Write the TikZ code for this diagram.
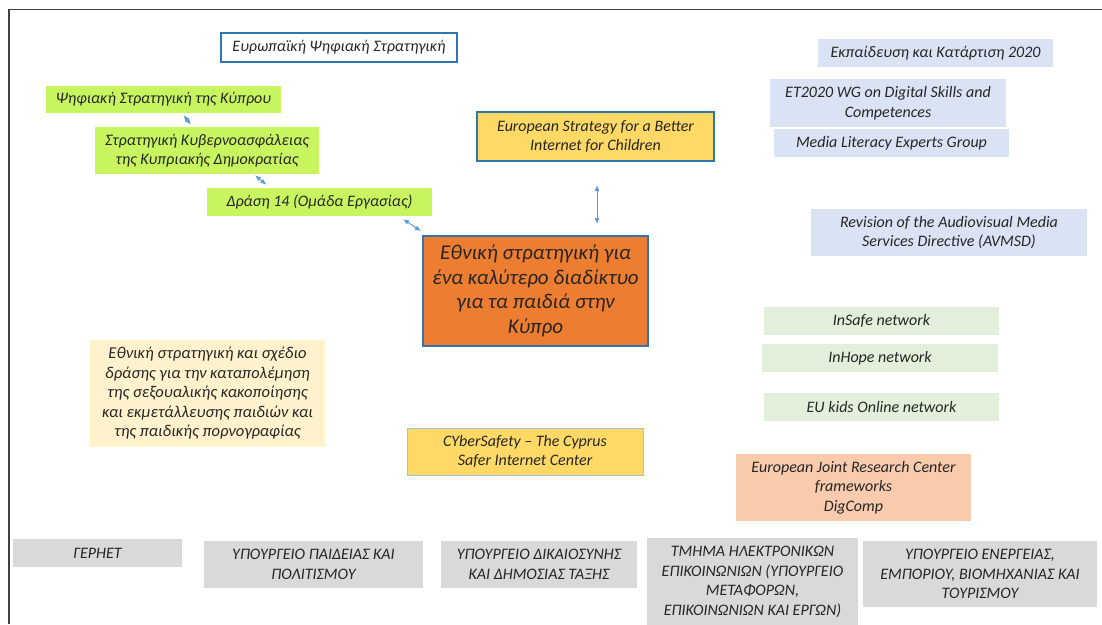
\documentclass[tikz,border=0pt]{standalone}
\usepackage{fontspec}
\setmainfont{Carlito}
\usepackage{tikz}
\usetikzlibrary{arrows.meta}
\definecolor{edgeblue}{RGB}{46,117,182}
\definecolor{arrowblue}{RGB}{91,155,213}
\definecolor{limegreen}{RGB}{200,245,95}
\definecolor{goldyellow}{RGB}{255,217,102}
\definecolor{deeporange}{RGB}{237,125,49}
\definecolor{paleblue}{RGB}{218,227,243}
\definecolor{palegreen}{RGB}{226,239,218}
\definecolor{peach}{RGB}{248,203,173}
\definecolor{paleyellow}{RGB}{255,242,204}
\definecolor{lightgrey}{RGB}{217,217,217}
\definecolor{thinblue}{RGB}{157,195,230}

\begin{document}
\begin{tikzpicture}[>={Latex[length=6pt,width=5pt]}, x=1pt, y=-1pt,
	box/.style={inner sep=0pt, align=center, text=black!85, font=\itshape\fontsize{16}{19.5}\selectfont},
	link/.style={<->, draw=arrowblue, line width=1pt}]
%		\draw [help lines] (0,0) grid (1102,624);
		\useasboundingbox (0,0) rectangle (1102,624);
		\draw [black!75, line width=1.5pt] (9,624) -- (9,9.5) -- (1102,9.5);
		% left column: european and cypriot strategies
		\node [box, draw=edgeblue, line width=1.2pt, minimum width=236, minimum height=29] (eudig) at (339,47.5) {Ευρωπαϊκή Ψηφιακή Στρατηγική};
		\node [box, fill=limegreen, minimum width=235, minimum height=27] (kyp) at (163.5,99.5) {Ψηφιακή Στρατηγική της Κύπρου};
		\node [box, fill=limegreen, minimum width=224, minimum height=47] (kyber) at (207,150.5) {Στρατηγική Κυβερνοασφάλειας\\της Κυπριακής Δημοκρατίας};
		\node [box, fill=limegreen, minimum width=225, minimum height=28] (drasi) at (319.5,202) {Δράση 14 (Ομάδα Εργασίας)};
		% centre
		\node [box, fill=goldyellow, draw=edgeblue, line width=2pt, minimum width=237, minimum height=49] (eubetter) at (595.5,136.5) {European Strategy for a Better\\Internet for Children};
		\node [box, fill=deeporange, draw=edgeblue, line width=2pt, minimum width=225, minimum height=110, font=\itshape\fontsize{21}{24.5}\selectfont] (ethniki) at (535.5,291) {Εθνική στρατηγική για\\ένα καλύτερο διαδίκτυο\\για τα παιδιά στην\\Κύπρο};
		\node [box, fill=paleyellow, minimum width=235, minimum height=107, font=\itshape\fontsize{16.5}{19.5}\selectfont] (sexual) at (207.5,393.5) {Εθνική στρατηγική και σχέδιο\\δράσης για την καταπολέμηση\\της σεξουαλικής κακοποίησης\\και εκμετάλλευσης παιδιών και\\της παιδικής πορνογραφίας};
		\node [box, fill=goldyellow, draw=thinblue, line width=0.8pt, minimum width=236, minimum height=47] (cysafe) at (525,451.5) {CYberSafety -- The Cyprus\\Safer Internet Center};
		% right column: eu groups and networks
		\node [box, fill=paleblue, minimum width=235, minimum height=28] (ekp) at (935.5,53) {Εκπαίδευση και Κατάρτιση 2020};
		\node [box, fill=paleblue, minimum width=236, minimum height=48] (et2020) at (888,103) {ET2020 WG on Digital Skills and\\Competences};
		\node [box, fill=paleblue, minimum width=235, minimum height=28] (media) at (891.5,143) {Media Literacy Experts Group};
		\node [box, fill=paleblue, minimum width=276, minimum height=47] (avmsd) at (949,232.5) {Revision of the Audiovisual Media\\Services Directive (AVMSD)};
		\node [box, fill=palegreen, minimum width=235, minimum height=28] (insafe) at (881.5,321) {InSafe network};
		\node [box, fill=palegreen, minimum width=236, minimum height=28] (inhope) at (880,358) {InHope network};
		\node [box, fill=palegreen, minimum width=235, minimum height=28] (eukids) at (881.5,407) {EU kids Online network};
		\node [box, fill=peach, minimum width=235, minimum height=67] (jrc) at (853.5,487.5) {European Joint Research Center\\frameworks\\DigComp};
		% bottom row: ministries
		\node [box, fill=lightgrey, minimum width=169, minimum height=28] (gernet) at (97.5,553) {ΓΕΡΗΕΤ};
		\node [box, fill=lightgrey, minimum width=219, minimum height=47] (paideia) at (313.5,564.5) {ΥΠΟΥΡΓΕΙΟ ΠΑΙΔΕΙΑΣ ΚΑΙ\\ΠΟΛΙΤΙΣΜΟΥ};
		\node [box, fill=lightgrey, minimum width=196, minimum height=47] (dikaio) at (539,564.5) {ΥΠΟΥΡΓΕΙΟ ΔΙΚΑΙΟΣΥΝΗΣ\\ΚΑΙ ΔΗΜΟΣΙΑΣ ΤΑΞΗΣ};
		\node [box, fill=lightgrey, minimum width=211, minimum height=88] (tmima) at (752.5,582) {ΤΜΗΜΑ ΗΛΕΚΤΡΟΝΙΚΩΝ\\ΕΠΙΚΟΙΝΩΝΙΩΝ (ΥΠΟΥΡΓΕΙΟ\\ΜΕΤΑΦΟΡΩΝ,\\ΕΠΙΚΟΙΝΩΝΙΩΝ ΚΑΙ ΕΡΓΩΝ)};
		\node [box, fill=lightgrey, minimum width=234, minimum height=66] (energeia) at (980,574) {ΥΠΟΥΡΓΕΙΟ ΕΝΕΡΓΕΙΑΣ,\\ΕΜΠΟΡΙΟΥ, ΒΙΟΜΗΧΑΝΙΑΣ ΚΑΙ\\ΤΟΥΡΙΣΜΟΥ};
		% arrows
		\draw [link] ([shift={(20,2)}]kyp.south) -- ([shift={(-16,-2)}]kyber.north);
		\draw [link] ([shift={(48,1)}]kyber.south) -- ([shift={(-53,-3)}]drasi.north);
		\draw [link] ([shift={(83.5,3)}]drasi.south) -- ([shift={(-1,-4)}]ethniki.north west);
		\draw [link] ([shift={(1.5,23)}]eubetter.south) -- ([shift={(61.5,-11)}]ethniki.north);
\end{tikzpicture}
\end{document}
